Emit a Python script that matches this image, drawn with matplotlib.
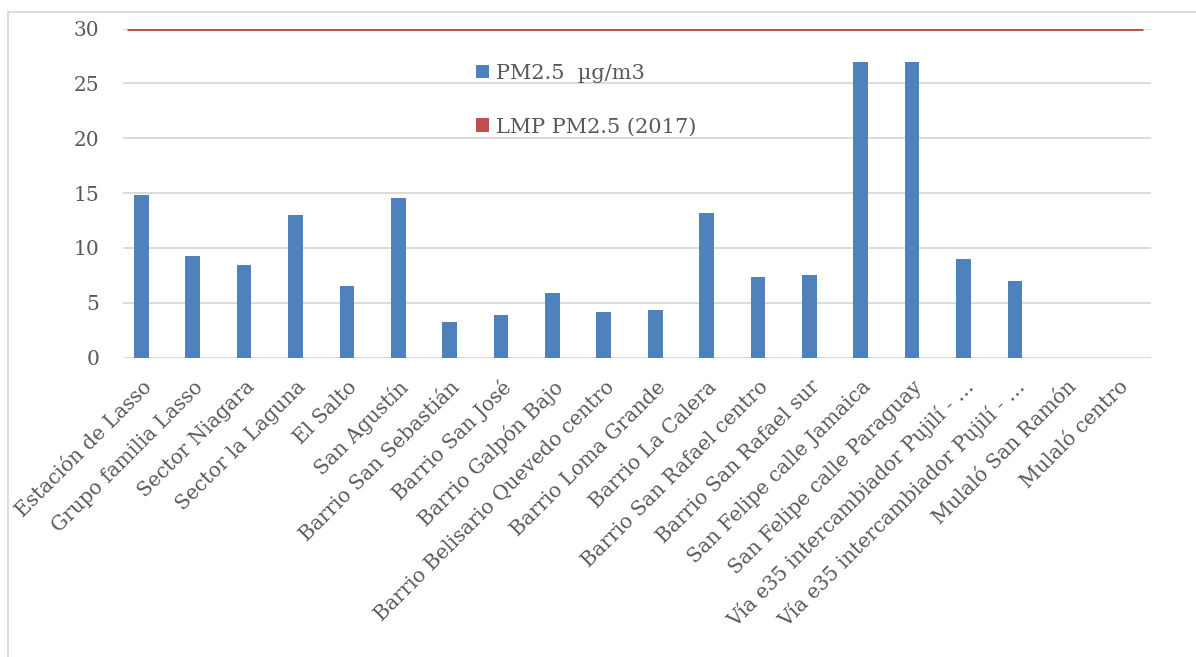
import numpy as np
import matplotlib.pyplot as plt
from matplotlib.patches import Patch, Rectangle

# Sampling sites and measured PM2.5 concentrations
sites = [
    "Estación de Lasso", "Grupo familia Lasso", "Sector Niagara", "Sector la Laguna",
    "El Salto", "San Agustín", "Barrio San Sebastián", "Barrio San José",
    "Barrio Galpón Bajo", "Barrio Belisario Quevedo centro", "Barrio Loma Grande",
    "Barrio La Calera", "Barrio San Rafael centro", "Barrio San Rafael sur",
    "San Felipe calle Jamaica", "San Felipe calle Paraguay",
    "Vía e35 intercambiador Pujilí - …", "Vía e35 intercambiador Pujilí - …",
    "Mulaló San Ramón", "Mulaló centro",
]
pm25 = [14.8, 9.3, 8.45, 13.0, 6.5, 14.6, 3.25, 3.9, 5.9, 4.2,
        4.35, 13.2, 7.4, 7.55, 27.0, 27.0, 9.0, 7.0, np.nan, np.nan]
lmp_2017 = 30
yticks = [0, 5, 10, 15, 20, 25, 30]

BLUE = '#4F81BD'
RED = '#C0504D'
TXT = '#595959'
GRID = '#D9D9D9'

plt.rcParams['font.family'] = ['DejaVu Serif']

fig = plt.figure(figsize=(11.96, 6.57), dpi=100)
ax = fig.add_axes([0.1028, 0.4556, 0.8593, 0.5008])

x = np.arange(len(sites))
ax.bar(x, pm25, width=-0.285, align='edge', color=BLUE, zorder=3)
ax.hlines(lmp_2017, -0.42, len(sites) - 0.65, color=RED, linewidth=2.2, zorder=4)

ax.set_xlim(-0.5, len(sites) - 0.5)
ax.set_ylim(0, 30)
ax.set_yticks(yticks)
ax.yaxis.grid(True, color=GRID, linewidth=1.3, zorder=0)
for s in ax.spines.values():
    s.set_visible(False)
ax.axhline(0, color=GRID, linewidth=1.3, zorder=2)

ax.tick_params(axis='y', length=0, pad=17, labelsize=14.5, labelcolor=TXT)
ax.tick_params(axis='x', length=0, pad=19, labelsize=14.5, labelcolor=TXT)
ax.set_xticks(x)
ax.set_xticklabels(sites, rotation=45, ha='right', va='center', rotation_mode='anchor')
for lbl in ax.get_xticklabels():
    lbl.set_x(lbl.get_position()[0] + 0.06)

handles = [Patch(facecolor=BLUE), Patch(facecolor=RED)]
leg = ax.legend(handles, ['PM2.5  µg/m3', 'LMP PM2.5 (2017)'],
                loc='upper left', bbox_to_anchor=(476 / 1196, 1 - 64 / 657),
                bbox_transform=fig.transFigure, frameon=False,
                fontsize=15, handlelength=0.6, handleheight=0.6,
                handletextpad=0.35, labelspacing=1.65, borderaxespad=0,
                borderpad=0)
for t in leg.get_texts():
    t.set_color(TXT)

# light frame around the chart area
fig.patches.append(Rectangle((8 / 1196, -0.1), 1.2, 1 - 12 / 657 + 0.1,
                             transform=fig.transFigure, fill=False,
                             edgecolor='#D9D9D9', linewidth=1.3))

fig.savefig('out.png', dpi=100)
